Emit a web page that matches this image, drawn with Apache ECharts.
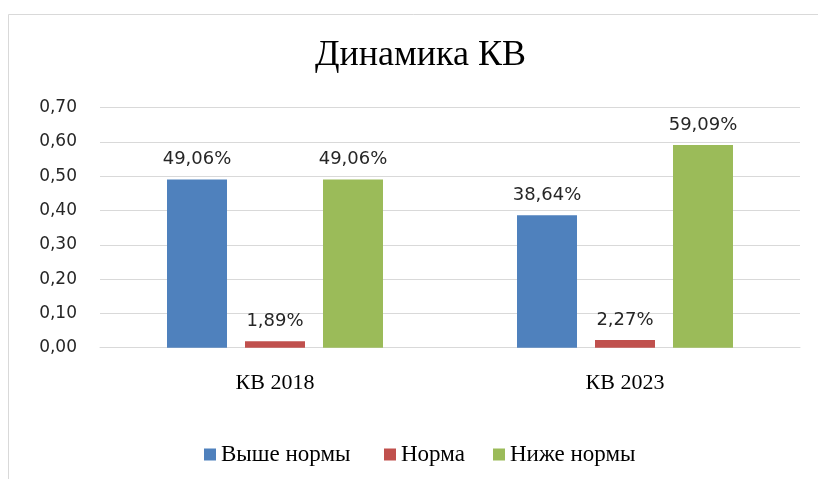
<!DOCTYPE html>
<html>
<head>
<meta charset="utf-8">
<script src="https://cdn.jsdelivr.net/npm/echarts@6/dist/echarts.min.js"></script>
<style>html,body{margin:0;padding:0;background:#fff;}#c{width:818px;height:479px;}</style>
</head>
<body>
<div id="c"></div>
<script>
const categories = ['КВ 2018', 'КВ 2023'];
const seriesNames = ['Выше нормы', 'Норма', 'Ниже нормы'];
const above = [0.4906, 0.3864];
const norm = [0.0189, 0.0227];
const below = [0.4906, 0.5909];
const yTicks = { min: 0, max: 0.7, interval: 0.1 };
const title = 'Динамика КВ';

const colors = ['#4F81BD', '#C0504D', '#9BBB59'];
const serif = '"Liberation Serif", "Times New Roman", serif';
const sans = '"DejaVu Sans", Verdana, sans-serif';
const legendLeft = [199, 379, 488];

const chart = echarts.init(document.getElementById('c'), null, { renderer: 'canvas' });
const pct = v => (v * 100).toFixed(2).replace('.', ',') + '%';
const mk = (name, data, i) => ({
  name, type: 'bar', data,
  barWidth: 60, barGap: '30%',
  itemStyle: { color: colors[i] },
  label: {
    show: true, position: 'top', distance: 11,
    fontFamily: sans, fontSize: 18, color: '#262626',
    formatter: p => pct(p.value)
  }
});

chart.setOption({
  animation: false,
  backgroundColor: '#fff',
  graphic: [{
    type: 'rect', left: 6, top: 12,
    shape: { x: 0, y: 0, width: 830, height: 500 },
    style: { fill: 'none', stroke: '#d9d9d9', lineWidth: 1 }, silent: true
  }],
  title: {
    text: title, left: 310, top: 33,
    textStyle: { fontFamily: serif, fontSize: 36, fontWeight: 'normal', color: '#000' }
  },
  legend: seriesNames.map((n, i) => ({
    data: [n], left: legendLeft[i], top: 438,
    itemWidth: 12, itemHeight: 12, icon: 'rect',
    textStyle: { fontFamily: serif, fontSize: 23, color: '#000' }
  })),
  grid: { left: 100, right: 18, top: 107.7, bottom: 131.3, containLabel: false },
  xAxis: {
    type: 'category', data: categories,
    axisLine: { lineStyle: { color: '#d9d9d9' } },
    axisTick: { show: false },
    axisLabel: { fontFamily: serif, fontSize: 22, color: '#000', margin: 25 }
  },
  yAxis: {
    type: 'value', min: yTicks.min, max: yTicks.max, interval: yTicks.interval,
    axisLine: { show: false }, axisTick: { show: false },
    splitLine: { lineStyle: { color: '#d9d9d9' } },
    axisLabel: {
      fontFamily: sans, fontSize: 17, color: '#262626', margin: 23,
      formatter: v => v.toFixed(2).replace('.', ',')
    }
  },
  series: [mk(seriesNames[0], above, 0), mk(seriesNames[1], norm, 1), mk(seriesNames[2], below, 2)]
});
</script>
</body>
</html>
